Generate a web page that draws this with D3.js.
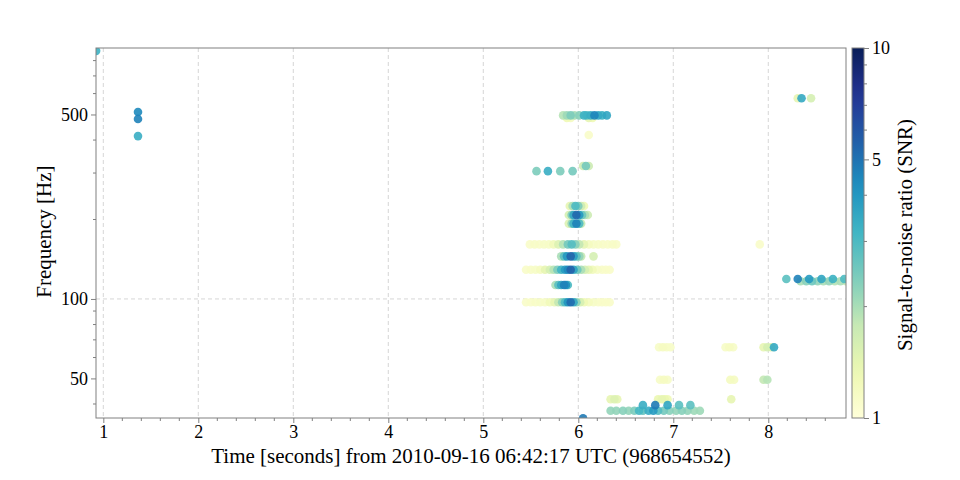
<!DOCTYPE html>
<html>
<head>
<meta charset="utf-8">
<script src="https://cdn.jsdelivr.net/npm/d3@7"></script>
<style>
  body { margin: 0; background: #fff; }
  svg text { font-family: "Liberation Serif", "DejaVu Serif", serif; fill: #000; }
</style>
</head>
<body>
<svg id="chart" width="960" height="480"></svg>
<script>
// triggers: [time (s from 968654552), frequency (Hz), snr]
var early = [
  [0.924, 871, 3.3],
  [1.365, 511, 4.4], [1.365, 481, 4.6], [1.365, 414, 3.4]
];

var high = [
  [5.84, 496, 1.9], [5.88, 496, 2.1], [5.92, 496, 2.4], [5.96, 496, 2.0], [6.01, 496, 2.3],
  [6.06, 496, 3.3], [6.09, 496, 3.0], [6.13, 496, 3.4], [6.17, 496, 4.5], [6.21, 496, 3.5],
  [6.25, 496, 3.3], [6.30, 496, 3.6],
  [5.88, 485, 1.3], [5.92, 485, 1.2], [6.11, 485, 1.4], [6.15, 485, 1.3],
  [6.11, 418, 1.12],
  [6.05, 319, 1.7], [6.08, 319, 2.5], [6.11, 319, 1.7],
  [5.56, 305, 2.4], [5.68, 305, 3.4], [5.81, 305, 2.4], [5.94, 305, 2.5]
];

var mid = [
  // 225 Hz
  [5.91, 225, 1.4], [5.94, 225, 2.0], [5.97, 225, 3.0], [6.00, 225, 2.4], [6.03, 225, 1.7],
  [6.06, 225, 1.3],
  // 208 Hz
  [5.90, 208, 1.6], [5.93, 208, 2.4], [5.95, 208, 3.6], [5.98, 208, 5.3], [6.01, 208, 4.0],
  [6.04, 208, 2.6], [6.07, 208, 2.0], [6.10, 208, 1.7],
  // 193 Hz
  [5.90, 193, 1.5], [5.93, 193, 2.2], [5.95, 193, 3.2], [5.98, 193, 4.6], [6.01, 193, 3.0],
  [6.03, 193, 1.8],
  // 161 Hz
  [5.49, 161, 1.12], [5.54, 161, 1.14], [5.59, 161, 1.12], [5.64, 161, 1.15], [5.69, 161, 1.15],
  [5.74, 161, 1.25], [5.79, 161, 1.5], [5.84, 161, 1.9], [5.89, 161, 2.5], [5.93, 161, 2.9],
  [5.97, 161, 2.3], [6.01, 161, 1.8], [6.06, 161, 1.4], [6.11, 161, 1.2], [6.16, 161, 1.15],
  [6.21, 161, 1.14], [6.26, 161, 1.12], [6.31, 161, 1.12], [6.36, 161, 1.14], [6.40, 161, 1.12],
  // 145 Hz
  [5.82, 145, 2.0], [5.85, 145, 2.8], [5.88, 145, 4.0], [5.92, 145, 5.4], [5.95, 145, 3.8],
  [5.98, 145, 2.8], [6.01, 145, 2.2], [6.03, 145, 1.8],
  [6.16, 145, 1.6],
  // 129 Hz
  [5.45, 129, 1.12], [5.50, 129, 1.14], [5.55, 129, 1.15], [5.60, 129, 1.2], [5.65, 129, 1.4],
  [5.70, 129, 1.6], [5.74, 129, 1.9], [5.78, 129, 2.4], [5.82, 129, 3.2], [5.86, 129, 3.9],
  [5.89, 129, 4.4], [5.92, 129, 5.5], [5.95, 129, 3.7], [5.99, 129, 2.6], [6.03, 129, 2.0],
  [6.07, 129, 1.6], [6.11, 129, 1.4], [6.15, 129, 1.25], [6.20, 129, 1.15], [6.25, 129, 1.12],
  [6.29, 129, 1.12], [6.33, 129, 1.12],
  // 113 Hz
  [5.76, 113, 2.0], [5.79, 113, 2.8], [5.82, 113, 3.6], [5.85, 113, 4.6], [5.87, 113, 4.2],
  [5.89, 113, 3.0],
  // 97 Hz
  [5.45, 97.2, 1.12], [5.50, 97.2, 1.12], [5.55, 97.2, 1.14], [5.60, 97.2, 1.15], [5.65, 97.2, 1.15],
  [5.70, 97.2, 1.25], [5.75, 97.2, 1.4], [5.79, 97.2, 1.8], [5.83, 97.2, 2.3], [5.86, 97.2, 3.0],
  [5.89, 97.2, 4.1], [5.92, 97.2, 5.2], [5.95, 97.2, 3.5], [5.98, 97.2, 2.3], [6.02, 97.2, 1.6],
  [6.06, 97.2, 1.3], [6.11, 97.2, 1.2], [6.16, 97.2, 1.15], [6.21, 97.2, 1.12], [6.25, 97.2, 1.12],
  [6.29, 97.2, 1.12], [6.33, 97.2, 1.12]
];

var low = [
  // 65.6 Hz
  [6.85, 65.6, 1.15], [6.89, 65.6, 1.18], [6.93, 65.6, 1.15], [6.97, 65.6, 1.15],
  [7.55, 65.6, 1.15], [7.59, 65.6, 1.18], [7.63, 65.6, 1.15],
  [7.95, 65.6, 1.4], [7.99, 65.6, 1.6], [8.03, 65.6, 1.5], [8.06, 65.6, 3.5],
  // 49.4 Hz
  [6.86, 49.4, 1.15], [6.90, 49.4, 1.18], [6.94, 49.4, 1.15],
  [7.60, 49.4, 1.2], [7.64, 49.4, 1.18],
  [7.95, 49.4, 1.8], [7.99, 49.4, 1.9],
  // 41.7 Hz
  [6.34, 41.7, 1.4], [6.38, 41.7, 1.5], [6.41, 41.7, 1.4],
  [6.84, 41.7, 1.35], [6.88, 41.7, 1.4], [6.91, 41.7, 1.35], [6.94, 41.7, 1.3],
  [7.61, 41.7, 1.4],
  // 39.6 Hz
  [6.68, 39.6, 3.4], [6.81, 39.6, 4.8], [6.94, 39.6, 3.6], [7.06, 39.6, 2.8], [7.18, 39.6, 2.8],
  // 37.7 Hz
  [6.34, 37.7, 2.2], [6.40, 37.7, 2.2], [6.47, 37.7, 2.3], [6.53, 37.7, 2.2], [6.59, 37.7, 2.4],
  [6.64, 37.7, 3.1], [6.68, 37.7, 2.7], [6.74, 37.7, 3.4], [6.79, 37.7, 3.9], [6.84, 37.7, 2.9],
  [6.90, 37.7, 2.5], [6.96, 37.7, 2.3], [7.03, 37.7, 2.2], [7.09, 37.7, 2.3], [7.15, 37.7, 2.2],
  [7.22, 37.7, 2.1], [7.28, 37.7, 2.1],
  [6.05, 35.3, 4.8]
];

var late = [
  [8.31, 576, 1.4], [8.35, 576, 3.5], [8.45, 576, 1.6],
  [7.91, 161, 1.12],
  [8.19, 119, 2.8], [8.31, 119, 4.6], [8.43, 119, 3.9], [8.56, 119, 3.6], [8.68, 119, 3.3], [8.80, 119, 3.0],
  [8.34, 116.7, 2.0], [8.40, 116.7, 2.3], [8.46, 116.7, 2.6], [8.52, 116.7, 2.2], [8.58, 116.7, 2.0],
  [8.64, 116.7, 2.2], [8.70, 116.7, 1.9], [8.76, 116.7, 2.0], [8.82, 116.7, 1.8]
];

var xTicks = [1, 2, 3, 4, 5, 6, 7, 8];
var yTicks = [50, 100, 500];
var yMinor = [40, 60, 70, 80, 90, 200, 300, 400, 600, 700, 800];
var cTicks = [1, 5, 10];
var cMinor = [2, 3, 4, 6, 7, 8, 9];
var ylgnbu = ["#ffffd9", "#edf8b1", "#c7e9b4", "#7fcdbb", "#41b6c4", "#1d91c0", "#225ea8", "#253494", "#081d58"];

var margin = {left: 96, right: 114, top: 48, bottom: 62};
var W = 960, H = 480;
var pw = W - margin.left - margin.right, ph = H - margin.top - margin.bottom;
var spine = "#808080";

var svg = d3.select("#chart");

var x = d3.scaleLinear().domain([0.923, 8.818]).range([margin.left, margin.left + pw]);
var y = d3.scaleLog().domain([35.4, 893]).range([margin.top + ph, margin.top]);
var color = d3.scaleSequentialLog(d3.piecewise(d3.interpolateRgb, ylgnbu)).domain([1, 10]);

// grid
var grid = svg.append("g");
grid.selectAll(".gx").data(xTicks).enter().append("line")
  .attr("x1", d => x(d)).attr("x2", d => x(d))
  .attr("y1", margin.top).attr("y2", margin.top + ph)
  .attr("stroke", "#cccccc").attr("stroke-dasharray", "4,3").attr("stroke-width", 0.8);
grid.append("line")
  .attr("x1", margin.left).attr("x2", margin.left + pw)
  .attr("y1", y(100)).attr("y2", y(100))
  .attr("stroke", "#cccccc").attr("stroke-dasharray", "4,3").attr("stroke-width", 0.8);

// points, lowest SNR drawn first
svg.append("clipPath").attr("id", "clip").append("rect")
  .attr("x", margin.left).attr("y", margin.top).attr("width", pw).attr("height", ph);

var pts = [].concat(early, high, mid, low, late).sort((a, b) => a[2] - b[2]);
svg.append("g").attr("clip-path", "url(#clip)")
  .selectAll("circle").data(pts).enter().append("circle")
  .attr("cx", d => x(d[0])).attr("cy", d => y(d[1])).attr("r", 4.3)
  .attr("fill", d => color(d[2])).attr("fill-opacity", 0.9);

// axes
var xAxis = d3.axisBottom(x).tickValues(xTicks).tickFormat(d3.format("d")).tickSize(5).tickPadding(2);
var gx = svg.append("g").attr("transform", "translate(0," + (margin.top + ph) + ")").call(xAxis);
var xMinor = d3.range(10, 88, 2).map(d => d / 10).filter(d => d % 1 != 0);
gx.selectAll(".minor").data(xMinor).enter().append("line").attr("class", "minor")
  .attr("x1", d => x(d)).attr("x2", d => x(d)).attr("y1", 0).attr("y2", 3)
  .attr("stroke", spine);

var yAxis = d3.axisLeft(y).tickValues(yTicks).tickFormat(d3.format("d")).tickSize(5).tickPadding(3);
var gy = svg.append("g").attr("transform", "translate(" + margin.left + ",0)").call(yAxis);
gy.selectAll(".minor").data(yMinor).enter().append("line").attr("class", "minor")
  .attr("x1", 0).attr("x2", -3).attr("y1", d => y(d)).attr("y2", d => y(d))
  .attr("stroke", spine);

[gx, gy].forEach(function(g) {
  g.select(".domain").remove();
  g.selectAll(".tick line").attr("stroke", spine);
  g.selectAll("text").style("font-size", "18px").attr("fill", "#000");
});

svg.append("rect")
  .attr("x", margin.left).attr("y", margin.top).attr("width", pw).attr("height", ph)
  .attr("fill", "none").attr("stroke", spine).attr("stroke-width", 1);

svg.append("text")
  .attr("x", margin.left + pw / 2).attr("y", 463)
  .attr("text-anchor", "middle").style("font-size", "21px")
  .text("Time [seconds] from 2010-09-16 06:42:17 UTC (968654552)");

svg.append("text")
  .attr("transform", "translate(51," + y(180) + ") rotate(-90)")
  .attr("text-anchor", "middle").style("font-size", "21px")
  .text("Frequency [Hz]");

// colorbar
var cbX = 852, cbW = 12;
var cy = d3.scaleLog().domain([1, 10]).range([margin.top + ph, margin.top]);
var grad = svg.append("defs").append("linearGradient").attr("id", "cbar")
  .attr("x1", 0).attr("y1", 1).attr("x2", 0).attr("y2", 0);
grad.selectAll("stop").data(d3.range(0, 1.001, 0.05)).enter().append("stop")
  .attr("offset", d => d).attr("stop-color", d => color(Math.pow(10, d)));
svg.append("rect").attr("x", cbX).attr("y", margin.top).attr("width", cbW).attr("height", ph)
  .attr("fill", "url(#cbar)").attr("stroke", spine);

var cAxis = d3.axisRight(cy).tickValues(cTicks).tickFormat(d3.format("d")).tickSize(5).tickPadding(3);
var gc = svg.append("g").attr("transform", "translate(" + (cbX + cbW) + ",0)").call(cAxis);
gc.select(".domain").remove();
gc.selectAll(".tick line").attr("stroke", spine);
gc.selectAll("text").style("font-size", "18px").attr("fill", "#000");
gc.selectAll(".minor").data(cMinor).enter().append("line").attr("class", "minor")
  .attr("x1", 0).attr("x2", 3).attr("y1", d => cy(d)).attr("y2", d => cy(d))
  .attr("stroke", spine);

svg.append("text")
  .attr("transform", "translate(912," + (margin.top + ph / 2 + 2) + ") rotate(-90)")
  .attr("text-anchor", "middle").style("font-size", "21px")
  .text("Signal-to-noise ratio (SNR)");
</script>
</body>
</html>
